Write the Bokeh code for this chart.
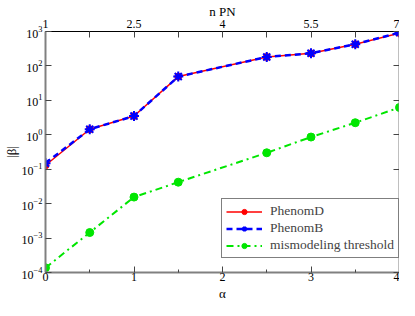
from bokeh.plotting import figure
from bokeh.models import (Range1d, LinearAxis, FixedTicker, Legend, LegendItem, Title,
                          NumeralTickFormatter, CustomJSTickFormatter)
from bokeh.embed import file_html
from bokeh.resources import INLINE

# ---- data ----
alpha = [0, 0.5, 1, 1.5, 2.5, 3, 3.5, 4]
phenomD = [0.13, 1.45, 3.5, 49, 182, 233, 427, 900]
phenomB = [0.15, 1.45, 3.5, 49, 182, 233, 427, 930]
threshold = [1.37e-4, 1.45e-3, 0.0155, 0.042, 0.30, 0.86, 2.24, 6.2]

alpha_ticks = [0, 1, 2, 3, 4]
alpha_minor = [0.5, 1.5, 2.5, 3.5]
npn_ticks = [1, 2.5, 4, 5.5, 7]
npn_minor = [1.75, 3.25, 4.75, 6.25]
y_ticks = [1e-4, 1e-3, 1e-2, 1e-1, 1e0, 1e1, 1e2, 1e3]

FONT = "Liberation Serif"
GREY = "#808080"
RED = "#ff0000"
BLUE = "#0000ff"
GREEN = "#00e600"

p = figure(width=399, height=300, x_range=Range1d(0, 4), y_range=Range1d(1e-4, 1e3),
           y_axis_type="log", output_backend="svg", toolbar_location=None,
           min_border_left=0, min_border_right=0, min_border_top=0, min_border_bottom=0)
p.title.visible = False
p.outline_line_color = None
p.xgrid.visible = False
p.ygrid.visible = False
p.background_fill_color = "white"
p.border_fill_color = "white"

def style_axis(ax, color, width):
    ax.axis_line_color = color
    ax.axis_line_width = width
    ax.major_tick_in = 6
    ax.major_tick_out = 0
    ax.minor_tick_in = 3
    ax.minor_tick_out = 0
    ax.major_tick_line_color = "#444444"
    ax.minor_tick_line_color = "#444444"
    ax.major_label_text_font = FONT
    ax.major_label_text_font_size = "12px"
    ax.major_label_text_color = "black"
    ax.axis_label_text_font = FONT
    ax.axis_label_text_font_size = "13px"
    ax.axis_label_text_font_style = "normal"
    ax.axis_label_text_color = "black"

# bottom axis
xa = p.xaxis[0]
xa.ticker = FixedTicker(ticks=alpha_ticks, minor_ticks=alpha_minor)
style_axis(xa, GREY, 2)
xa.major_label_standoff = 0
xtitle = Title(text="α", align="center", text_font=FONT, text_font_size="13px",
               text_font_style="normal", text_color="black", standoff=0, offset=0)
p.add_layout(xtitle, "below")

# left axis
ya = p.yaxis[0]
ya.ticker = FixedTicker(ticks=y_ticks)
ya.axis_label = "|β|"
style_axis(ya, GREY, 2)
ya.major_label_standoff = 3
ya.axis_label_standoff = 0

# right axis (no labels)
ra = LinearAxis(ticker=FixedTicker(ticks=y_ticks),
                formatter=CustomJSTickFormatter(code="return ''"))
style_axis(ra, GREY, 2)
ra.major_label_standoff = 0
ra.major_label_text_font_size = "1px"
p.add_layout(ra, "right")

# top axis: n PN
p.extra_x_ranges = {"npn": Range1d(1, 7)}
ta = LinearAxis(x_range_name="npn", axis_label="n PN",
                ticker=FixedTicker(ticks=npn_ticks, minor_ticks=npn_minor),
                formatter=NumeralTickFormatter(format="0.[0]"))
style_axis(ta, "black", 1)
ta.minor_tick_in = 6
ta.major_label_standoff = 4
ta.axis_label_standoff = -2
p.add_layout(ta, "above")

# series
rl = p.line(alpha, phenomD, line_color=RED, line_width=1.5)
rs = p.scatter(alpha, phenomD, marker="circle", size=7, fill_color=RED, line_color=RED)
bl = p.line(alpha, phenomB, line_color=BLUE, line_width=2.5, line_dash="6 4")
bs = p.scatter(alpha, phenomB, marker="asterisk", size=10, line_color=BLUE, line_width=2)
gl = p.line(alpha, threshold, line_color=GREEN, line_width=2, line_dash="7 4 2 4")
gs = p.scatter(alpha, threshold, marker="circle", size=8, fill_color=GREEN, line_color=GREEN)

legend = Legend(items=[
    LegendItem(label="PhenomD", renderers=[rl, rs]),
    LegendItem(label="PhenomB", renderers=[bl, bs]),
    LegendItem(label="mismodeling threshold", renderers=[gl, gs]),
], location=(176, 14))
legend.border_line_color = "black"
legend.border_line_width = 1
legend.background_fill_color = "white"
legend.background_fill_alpha = 1
legend.label_text_font = FONT
legend.label_text_font_size = "13.5px"
legend.label_height = 13
legend.glyph_height = 13
legend.glyph_width = 36
legend.spacing = 1
legend.padding = 4
legend.margin = 0
legend.label_standoff = 8
p.add_layout(legend, "center")

open("out.html", "w").write(file_html(p, INLINE))
